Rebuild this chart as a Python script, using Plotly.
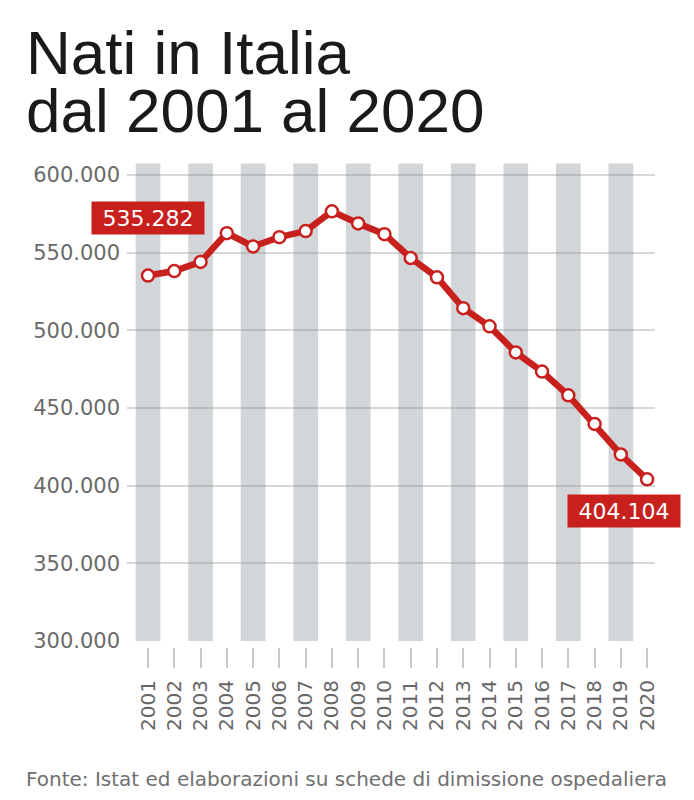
import plotly.graph_objects as go

years = list(range(2001, 2021))
births = [535282, 538198, 544063, 562599, 554022, 560010, 563933, 576659, 568857, 561944,
          546585, 534186, 514308, 502596, 485780, 473438, 458151, 439747, 420084, 404104]
y_tickvals = [300000, 350000, 400000, 450000, 500000, 550000, 600000]
y_ticktext = ["300.000", "350.000", "400.000", "450.000", "500.000", "550.000", "600.000"]
x_ticktext = [str(y) for y in years]
first_label = "535.282"
last_label = "404.104"
title_line1 = "Nati in Italia"
title_line2 = "dal 2001 al 2020"
source = "Fonte: Istat ed elaborazioni su schede di dimissione ospedaliera"

RED = "#c8201d"
W, H = 694, 800
SMALL = "DejaVu Sans"

fig = go.Figure()
fig.add_trace(go.Scatter(
    x=years, y=births, mode="lines+markers",
    line=dict(color=RED, width=6.5),
    marker=dict(size=12, color="white", line=dict(color=RED, width=2.5)),
    cliponaxis=False, hoverinfo="skip", showlegend=False,
))

# alternating grey bands on odd years
for yr in years[::2]:
    fig.add_shape(type="rect", xref="x", yref="y domain", x0=yr - 0.47, x1=yr + 0.47,
                  y0=0, y1=1, fillcolor="#d2d6d8", line=dict(width=0), layer="below")

fig.add_annotation(x=years[0], y=births[0], text=first_label, showarrow=False,
                   yshift=58, xshift=0, bgcolor=RED, borderpad=3, width=106, height=26,
                   font=dict(family=SMALL, size=22, color="white"))
fig.add_annotation(x=years[-1], y=births[-1], text=last_label, showarrow=False,
                   yshift=-32, xshift=-23, bgcolor=RED, borderpad=3, width=106, height=26,
                   font=dict(family=SMALL, size=22, color="white"))

fig.add_annotation(xref="paper", yref="paper", x=24 / W, y=1 - 52 / H, xanchor="left", yanchor="middle",
                   text=title_line1, showarrow=False, height=54,
                   font=dict(family="Liberation Sans, Arial", size=62, color="#1a1a1a"))
fig.add_annotation(xref="paper", yref="paper", x=24 / W, y=1 - 110 / H, xanchor="left", yanchor="middle",
                   text=title_line2, showarrow=False, height=54,
                   font=dict(family="Liberation Sans, Arial", size=62, color="#1a1a1a"))
fig.add_annotation(xref="paper", yref="paper", x=24 / W, y=1 - 779 / H, xanchor="left", yanchor="middle",
                   text=source, showarrow=False,
                   font=dict(family=SMALL, size=20, color="#707070"))

fig.update_layout(
    width=W, height=H,
    margin=dict(l=0, r=0, t=0, b=0, pad=0, autoexpand=False),
    paper_bgcolor="white", plot_bgcolor="white",
    showlegend=False,
    xaxis=dict(
        domain=[127 / W, 655 / W], range=[2000.2, 2020.3],
        anchor="free", position=1 - 647 / H, automargin=False,
        tickvals=years, ticktext=x_ticktext, tickangle=-90,
        ticks="outside", ticklen=20, tickwidth=1.5, tickcolor="#c8c8c8",
        showgrid=False, zeroline=False, showline=False,
        ticklabelstandoff=4,
        tickfont=dict(family=SMALL, size=20, color="#666666"),
    ),
    yaxis=dict(
        domain=[1 - 641 / H, 1 - 163.4 / H], range=[300000, 607500], automargin=False,
        tickvals=y_tickvals, ticktext=y_ticktext,
        showgrid=True, gridcolor="rgba(140,140,140,0.35)", gridwidth=2,
        zeroline=False, showline=False, ticks="",
        ticklabelstandoff=6,
        tickfont=dict(family=SMALL, size=21, color="#6a6a6a"),
    ),
)

fig.write_html("out.html")
